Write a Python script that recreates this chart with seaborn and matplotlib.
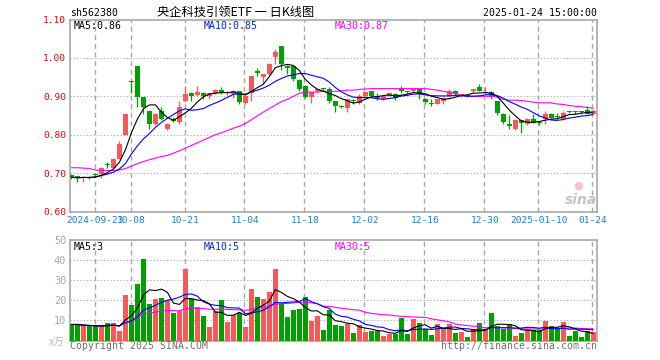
import numpy as np
import pandas as pd
import matplotlib
matplotlib.use("Agg")
import matplotlib.pyplot as plt
import seaborn as sns

# ---------------- data ----------------
opens = [0.695, 0.692, 0.688, 0.691, 0.696, 0.697, 0.721, 0.714, 0.738, 0.800,
         0.938, 0.980, 0.898, 0.861, 0.827, 0.861, 0.814, 0.840, 0.833, 0.887,
         0.909, 0.904, 0.909, 0.900, 0.909, 0.917, 0.908, 0.905, 0.913, 0.883,
         0.909, 0.967, 0.951, 0.957, 1.003, 1.030, 0.980, 0.978, 0.942, 0.928,
         0.899, 0.913, 0.919, 0.918, 0.887, 0.876, 0.870, 0.888, 0.883, 0.902,
         0.913, 0.898, 0.892, 0.902, 0.907, 0.920, 0.911, 0.913, 0.918, 0.894,
         0.882, 0.881, 0.889, 0.900, 0.915, 0.903, 0.902, 0.913, 0.923, 0.909,
         0.912, 0.887, 0.855, 0.829, 0.814, 0.837, 0.829, 0.841, 0.832, 0.841,
         0.855, 0.848, 0.841, 0.860, 0.860, 0.860, 0.864, 0.855]
highs = [0.697, 0.693, 0.692, 0.693, 0.698, 0.716, 0.728, 0.740, 0.783, 0.855,
         0.939, 0.980, 0.898, 0.862, 0.857, 0.871, 0.830, 0.846, 0.889, 0.928,
         0.912, 0.928, 0.911, 0.909, 0.920, 0.925, 0.914, 0.917, 0.914, 0.902,
         0.954, 0.974, 0.958, 0.988, 1.022, 1.030, 0.982, 0.980, 0.946, 0.930,
         0.911, 0.921, 0.921, 0.925, 0.888, 0.878, 0.893, 0.892, 0.905, 0.912,
         0.914, 0.909, 0.902, 0.912, 0.908, 0.926, 0.913, 0.921, 0.920, 0.895,
         0.892, 0.893, 0.897, 0.920, 0.916, 0.906, 0.903, 0.919, 0.933, 0.925,
         0.913, 0.889, 0.856, 0.851, 0.840, 0.838, 0.843, 0.853, 0.834, 0.861,
         0.856, 0.857, 0.861, 0.862, 0.862, 0.863, 0.876, 0.866]
lows = [0.685, 0.676, 0.676, 0.684, 0.690, 0.687, 0.713, 0.712, 0.736, 0.798,
        0.909, 0.871, 0.855, 0.814, 0.825, 0.838, 0.811, 0.833, 0.827, 0.885,
        0.887, 0.902, 0.894, 0.893, 0.905, 0.905, 0.903, 0.896, 0.880, 0.880,
        0.888, 0.952, 0.935, 0.955, 0.983, 0.968, 0.957, 0.940, 0.913, 0.895,
        0.883, 0.912, 0.915, 0.883, 0.858, 0.869, 0.858, 0.880, 0.880, 0.900,
        0.900, 0.890, 0.890, 0.900, 0.890, 0.909, 0.909, 0.912, 0.893, 0.880,
        0.876, 0.880, 0.880, 0.899, 0.903, 0.898, 0.897, 0.911, 0.914, 0.905,
        0.892, 0.852, 0.827, 0.816, 0.812, 0.805, 0.825, 0.830, 0.826, 0.829,
        0.843, 0.840, 0.839, 0.856, 0.855, 0.855, 0.853, 0.853]
closes = [0.689, 0.687, 0.690, 0.688, 0.695, 0.713, 0.720, 0.738, 0.777, 0.855,
          0.937, 0.898, 0.871, 0.827, 0.855, 0.841, 0.829, 0.836, 0.872, 0.907,
          0.900, 0.912, 0.902, 0.909, 0.917, 0.909, 0.910, 0.913, 0.885, 0.900,
          0.954, 0.961, 0.957, 0.985, 1.015, 0.983, 0.975, 0.944, 0.919, 0.899,
          0.911, 0.920, 0.918, 0.887, 0.874, 0.871, 0.893, 0.887, 0.900, 0.911,
          0.902, 0.896, 0.900, 0.909, 0.896, 0.913, 0.910, 0.920, 0.905, 0.886,
          0.881, 0.892, 0.896, 0.913, 0.905, 0.905, 0.900, 0.918, 0.915, 0.910,
          0.899, 0.857, 0.833, 0.822, 0.837, 0.831, 0.841, 0.831, 0.831, 0.855,
          0.844, 0.847, 0.857, 0.859, 0.859, 0.859, 0.855, 0.862]
# 30-day price average as drawn in the reference (needs history before the window)
ma30_price = [0.714, 0.714, 0.713, 0.712, 0.708, 0.707, 0.707, 0.707, 0.708, 0.712,
              0.718, 0.725, 0.730, 0.735, 0.739, 0.743, 0.746, 0.752, 0.758, 0.765,
              0.772, 0.779, 0.786, 0.793, 0.800, 0.805, 0.811, 0.817, 0.822, 0.829,
              0.839, 0.849, 0.859, 0.868, 0.877, 0.886, 0.892, 0.900, 0.908, 0.911,
              0.911, 0.911, 0.913, 0.913, 0.913, 0.914, 0.916, 0.916, 0.918, 0.919,
              0.920, 0.920, 0.920, 0.920, 0.920, 0.920, 0.920, 0.920, 0.920, 0.920,
              0.918, 0.916, 0.913, 0.910, 0.907, 0.903, 0.901, 0.900, 0.900, 0.900,
              0.900, 0.898, 0.892, 0.890, 0.890, 0.889, 0.887, 0.885, 0.883, 0.883,
              0.883, 0.880, 0.879, 0.876, 0.874, 0.873, 0.871, 0.869]
volumes = [8.0, 8.0, 7.0, 7.0, 7.0, 7.0, 8.7, 8.7, 4.5, 22.5,
           17.5, 28.0, 40.5, 18.0, 20.5, 21.2, 20.0, 13.8, 14.5, 35.5,
           20.5, 16.7, 12.2, 6.7, 14.5, 20.0, 9.2, 12.8, 13.8, 6.7,
           25.5, 21.7, 20.5, 24.0, 35.5, 18.3, 11.7, 15.0, 15.5, 21.7,
           9.7, 12.2, 5.0, 15.0, 7.5, 7.3, 8.3, 3.7, 7.5, 4.2,
           4.8, 4.8, 2.2, 3.3, 3.0, 11.2, 3.2, 10.5, 8.7, 5.8,
           2.5, 8.0, 5.5, 8.0, 3.7, 4.2, 1.7, 5.8, 8.7, 5.0,
           13.7, 7.3, 5.8, 8.0, 2.2, 3.7, 5.8, 5.0, 5.0, 9.7,
           7.3, 5.8, 9.2, 2.2, 4.5, 1.7, 4.5, 4.2]
tick_pos = [4, 10, 19, 29, 39, 49, 59, 69, 78, 87]
tick_labels = ["2024-09-23", "10-08", "10-21", "11-04", "11-18", "12-02",
               "12-16", "12-30", "2025-01-10", "01-24"]
price_ticks = [0.60, 0.70, 0.80, 0.90, 1.00, 1.10]
vol_ticks = [10, 20, 30, 40, 50]

# ---------------- build tables ----------------
df = pd.DataFrame({"i": np.arange(len(closes)), "open": opens, "high": highs,
                   "low": lows, "close": closes, "vol": volumes,
                   "ma30": ma30_price})
df["dir"] = np.where(df["close"] >= df["open"], "up", "down")
df["ma5"] = df["close"].rolling(5, min_periods=1).mean()
df["ma10"] = df["close"].rolling(10, min_periods=1).mean()
df["vma5"] = df["vol"].rolling(5, min_periods=1).mean()
df["vma10"] = df["vol"].rolling(10, min_periods=1).mean()
df["vma30"] = df["vol"].rolling(30, min_periods=1).mean()

RED = "#f85858"
GREEN = "#00a000"
GRID = "#a8a8a8"
FRAME = "#a0a0a0"
pal = {"up": RED, "down": GREEN}
LW = 0.8

sns.set_style("white")
plt.rcParams["font.family"] = ["DejaVu Sans Mono", "Noto Sans CJK SC"]

W, H = 660, 360
fig = plt.figure(figsize=(6.6, 3.6), dpi=100)
fig.patch.set_facecolor("white")

def fx(x):
    return x / W

def fy(y):
    return 1 - y / H

L, R = 70.3, 596.7
axp = fig.add_axes([fx(L), fy(211.5), fx(R - L), fy(19.5) - fy(211.5)])
axv = fig.add_axes([fx(L), fy(340.5), fx(R - L), fy(240.3) - fy(340.5)])

XMIN, XMAX = -0.2, 87.6

# ---------------- price panel ----------------
for _, r in df.iterrows():
    c = pal[r["dir"]]
    axp.vlines(r["i"], r["low"], r["high"], color=c, lw=0.9, zorder=3)
body_h = (df["close"] - df["open"]).abs().clip(lower=0.0026)
body_b = df[["open", "close"]].min(axis=1)
axp.bar(df["i"], body_h, bottom=body_b, width=0.8,
        color=[pal[d] for d in df["dir"]], linewidth=0, zorder=4)

sns.lineplot(data=df, x="i", y="ma30", ax=axp, color="#ff00ff", lw=LW,
             estimator=None, zorder=5)
sns.lineplot(data=df, x="i", y="ma10", ax=axp, color="#0000ff", lw=LW,
             estimator=None, zorder=6)
sns.lineplot(data=df, x="i", y="ma5", ax=axp, color="#000000", lw=LW,
             estimator=None, zorder=7)

axp.set_xlim(XMIN, XMAX)
axp.set_ylim(0.60, 1.10)
axp.set_yticks(price_ticks)
axp.set_yticklabels([f"{t:.2f}" for t in price_ticks], color="#e60000",
                    fontsize=6.8)
axp.set_xticks(tick_pos)
axp.set_xticklabels(tick_labels, color="#1a7fd0", fontsize=6.8)
axp.tick_params(axis="both", length=0, pad=3)
axp.set_xlabel("")
axp.set_ylabel("")
for t in price_ticks[1:-1]:
    axp.axhline(t, color=GRID, lw=0.8, ls=(0, (1, 2)), zorder=1)
for p in tick_pos:
    axp.axvline(p - 0.15, color=GRID, lw=1.0, ls=(0, (3.6, 2.6)), zorder=1)

# ---------------- volume panel ----------------
sns.barplot(data=df, x="i", y="vol", hue="dir", palette=pal, ax=axv,
            native_scale=True, dodge=False, width=0.8, linewidth=0,
            saturation=1, errorbar=None, legend=False, zorder=3)
sns.lineplot(data=df, x="i", y="vma30", ax=axv, color="#ff00ff", lw=LW,
             estimator=None, zorder=5)
sns.lineplot(data=df, x="i", y="vma10", ax=axv, color="#0000ff", lw=LW,
             estimator=None, zorder=6)
sns.lineplot(data=df, x="i", y="vma5", ax=axv, color="#000000", lw=LW,
             estimator=None, zorder=7)
axv.set_xlim(XMIN, XMAX)
axv.set_ylim(0, 50)
axv.set_yticks(vol_ticks)
axv.set_yticklabels([str(t) for t in vol_ticks], color="#a8a8a8", fontsize=7.4)
axv.set_xticks([])
axv.tick_params(axis="both", length=0, pad=3)
axv.set_xlabel("")
axv.set_ylabel("")
for t in vol_ticks[:-1]:
    axv.axhline(t, color=GRID, lw=0.8, ls=(0, (1, 2)), zorder=1)
for p in tick_pos:
    axv.axvline(p - 0.15, color=GRID, lw=1.0, ls=(0, (3.6, 2.6)), zorder=1)

for ax in (axp, axv):
    for s in ax.spines.values():
        s.set_visible(True)
        s.set_color(FRAME)
        s.set_linewidth(1.1)

# ---------------- texts ----------------
mono = ["DejaVu Sans Mono"]
fig.text(fx(70), fy(13), "sh562380", fontsize=7.1, family=mono,
         va="center", ha="left", color="black")
fig.text(fx(236), fy(12), "央企科技引领ETF 一 日K线图", fontsize=8.8,
         family=["Noto Sans CJK SC", "DejaVu Sans"], va="center", ha="center",
         color="black")
fig.text(fx(597), fy(13), "2025-01-24 15:00:00", fontsize=7.1, family=mono,
         va="center", ha="right", color="black")

fig.text(fx(74), fy(26), "MA5:0.86", fontsize=7.1, family=mono, va="center",
         color="black")
fig.text(fx(204), fy(26), "MA10:0.85", fontsize=7.1, family=mono, va="center",
         color="#0022dd")
fig.text(fx(335), fy(26), "MA30:0.87", fontsize=7.1, family=mono, va="center",
         color="#ff00ff")

fig.text(fx(74), fy(247), "MA5:3", fontsize=7.1, family=mono, va="center",
         color="black")
fig.text(fx(204), fy(247), "MA10:5", fontsize=7.1, family=mono, va="center",
         color="#0022dd")
fig.text(fx(335), fy(247), "MA30:5", fontsize=7.1, family=mono, va="center",
         color="#ff00ff")

fig.text(fx(64), fy(343), "x万", fontsize=7.5,
         family=["Noto Sans CJK SC", "DejaVu Sans"], va="center", ha="right",
         color="#b8b8b8", style="italic")
fig.text(fx(70), fy(346), "Copyright 2025 SINA.COM", fontsize=7.1,
         family=mono, va="center", ha="left", color="#707070")
fig.text(fx(597), fy(346), "http://finance.sina.com.cn", fontsize=7.1,
         family=mono, va="center", ha="right", color="#707070")

# sina watermark
fig.text(fx(578), fy(186), "●", fontsize=8, color="#f6c4c4", ha="center",
         va="center", family=["DejaVu Sans"])
fig.text(fx(581), fy(200), "sina", fontsize=10, color="#c4c4c4", ha="center",
         va="center", style="italic", weight="bold", family=["DejaVu Sans"])

fig.savefig("out.png", dpi=100, facecolor="white")
